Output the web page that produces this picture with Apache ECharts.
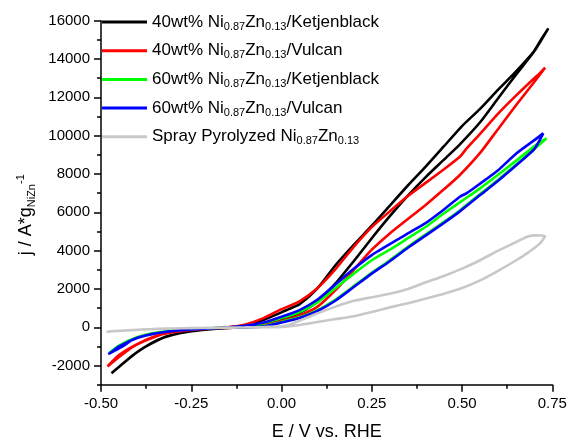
<!DOCTYPE html>
<html>
<head>
<meta charset="utf-8">
<script src="https://cdn.jsdelivr.net/npm/echarts@6/dist/echarts.min.js"></script>
<style>html,body{margin:0;padding:0;background:#fff;}#c{width:569px;height:441px;}</style>
</head>
<body>
<div id="c"></div>
<script>
// ---- data: [E (V vs RHE), j (A/g)] ----
const seriesNames = [
  '40wt% Ni0.87Zn0.13/Ketjenblack',
  '40wt% Ni0.87Zn0.13/Vulcan',
  '60wt% Ni0.87Zn0.13/Ketjenblack',
  '60wt% Ni0.87Zn0.13/Vulcan',
  'Spray Pyrolyzed Ni0.87Zn0.13'
];
const legendLabels = [
  '40wt% Ni{s|0.87}Zn{s|0.13}/Ketjenblack',
  '40wt% Ni{s|0.87}Zn{s|0.13}/Vulcan',
  '60wt% Ni{s|0.87}Zn{s|0.13}/Ketjenblack',
  '60wt% Ni{s|0.87}Zn{s|0.13}/Vulcan',
  'Spray Pyrolyzed Ni{s|0.87}Zn{s|0.13}'
];
const seriesColors = ['#000000', '#ff0000', '#00ff00', '#0000ff', '#c8c8c8'];

const k40Fwd = [[-0.471,-2400],[-0.44,-1900],[-0.411,-1445],[-0.38,-1050],[-0.35,-740],[-0.319,-480],[-0.273,-270],[-0.226,-150],[-0.18,-70],[-0.134,-20],[-0.1,20],[-0.05,120],[0,380],[0.05,750],[0.1,1350],[0.15,2300],[0.2,3450],[0.25,4650],[0.3,5800],[0.35,6870],[0.4,7850],[0.45,8750],[0.494,9550],[0.55,10700],[0.6,11950],[0.65,13200],[0.7,14400],[0.739,15600]];
const k40Rev = [[0.72,15050],[0.697,14350],[0.647,13300],[0.6,12400],[0.55,11400],[0.5,10500],[0.45,9450],[0.4,8400],[0.35,7400],[0.3,6350],[0.25,5300],[0.2,4300],[0.15,3250],[0.1,2050],[0.05,1200],[0.02,950],[0,780],[-0.05,380],[-0.1,100],[-0.15,-20],[-0.2,-100],[-0.25,-210],[-0.3,-390],[-0.35,-720],[-0.4,-1300],[-0.44,-1900],[-0.465,-2300]];

const v40Fwd = [[-0.482,-2050],[-0.45,-1550],[-0.411,-1010],[-0.38,-720],[-0.35,-490],[-0.319,-315],[-0.273,-175],[-0.226,-100],[-0.18,-50],[-0.134,-20],[-0.1,10],[-0.05,100],[0,330],[0.05,620],[0.1,1080],[0.15,1950],[0.2,3000],[0.25,4050],[0.3,4900],[0.35,5650],[0.4,6400],[0.45,7200],[0.494,7950],[0.55,9100],[0.6,10350],[0.65,11600],[0.7,12800],[0.73,13550]];
const v40Rev = [[0.715,13250],[0.7,13000],[0.65,12100],[0.6,11150],[0.55,10100],[0.513,9340],[0.494,8900],[0.45,8250],[0.4,7550],[0.35,6850],[0.3,6050],[0.25,5230],[0.2,4200],[0.15,3050],[0.1,2050],[0.05,1350],[0.02,1100],[0,950],[-0.05,480],[-0.1,150],[-0.15,0],[-0.2,-70],[-0.25,-140],[-0.3,-260],[-0.35,-470],[-0.4,-880],[-0.45,-1450],[-0.48,-2000]];

const k60Fwd = [[-0.478,-1330],[-0.44,-930],[-0.411,-590],[-0.365,-340],[-0.319,-210],[-0.273,-120],[-0.226,-70],[-0.18,-35],[-0.134,-10],[-0.1,5],[-0.05,60],[0,280],[0.05,520],[0.1,900],[0.15,1450],[0.2,2150],[0.25,2850],[0.3,3500],[0.35,4200],[0.4,4850],[0.45,5500],[0.494,6100],[0.55,6950],[0.6,7700],[0.65,8500],[0.7,9300],[0.734,9860]];
const k60Rev = [[0.72,9700],[0.7,9450],[0.65,8700],[0.605,8035],[0.55,7250],[0.5,6600],[0.45,5950],[0.4,5250],[0.35,4650],[0.3,4050],[0.25,3500],[0.2,2800],[0.15,2050],[0.1,1300],[0.05,800],[0,480],[-0.05,220],[-0.1,70],[-0.15,-10],[-0.2,-55],[-0.25,-100],[-0.3,-170],[-0.35,-300],[-0.4,-520],[-0.45,-950],[-0.475,-1300]];

const v60Fwd = [[-0.48,-1400],[-0.44,-1000],[-0.411,-630],[-0.365,-370],[-0.319,-230],[-0.273,-140],[-0.226,-80],[-0.18,-40],[-0.134,-15],[-0.1,0],[-0.05,40],[0,250],[0.05,480],[0.1,850],[0.15,1400],[0.2,2100],[0.25,2800],[0.3,3450],[0.35,4150],[0.4,4800],[0.45,5450],[0.494,6050],[0.55,6900],[0.6,7650],[0.651,8470],[0.7,9300],[0.725,10120]];
const v60Rev = [[0.707,9860],[0.651,9080],[0.6,8200],[0.55,7500],[0.513,7000],[0.494,6815],[0.45,6150],[0.4,5450],[0.35,4900],[0.328,4650],[0.25,3770],[0.2,3050],[0.15,2250],[0.1,1450],[0.05,900],[0,550],[-0.05,250],[-0.1,80],[-0.15,-10],[-0.2,-60],[-0.25,-110],[-0.3,-190],[-0.35,-320],[-0.4,-560],[-0.45,-1000],[-0.475,-1350]];

const spFwd = [[-0.485,-230],[-0.45,-190],[-0.411,-150],[-0.365,-100],[-0.319,-70],[-0.273,-50],[-0.226,-35],[-0.18,-25],[-0.134,-15],[-0.1,-10],[-0.05,0],[0,15],[0.05,120],[0.1,280],[0.15,430],[0.2,580],[0.25,800],[0.3,1040],[0.35,1260],[0.4,1500],[0.45,1750],[0.5,2050],[0.55,2450],[0.6,2950],[0.65,3500],[0.68,3860],[0.716,4380],[0.73,4760]];
const spRev = [[0.705,4800],[0.68,4730],[0.65,4450],[0.6,4000],[0.55,3500],[0.5,3060],[0.45,2680],[0.4,2350],[0.35,2000],[0.3,1750],[0.25,1570],[0.2,1380],[0.15,1080],[0.1,730],[0.05,350],[0.02,120],[0,50],[-0.05,10],[-0.1,-5],[-0.15,-15],[-0.2,-25],[-0.25,-40],[-0.3,-60],[-0.35,-90],[-0.4,-130],[-0.45,-180],[-0.48,-220]];

const yMajorTicks = [-2000, 0, 2000, 4000, 6000, 8000, 10000, 12000, 14000, 16000];
const yMinorTicks = [-3000, -1000, 1000, 3000, 5000, 7000, 9000, 11000, 13000, 15000];

const loops = [k40Fwd.concat(k40Rev), v40Fwd.concat(v40Rev), k60Fwd.concat(k60Rev), v60Fwd.concat(v60Rev), spFwd.concat(spRev)];

const FONT = "'Liberation Sans', Arial, sans-serif";
const chart = echarts.init(document.getElementById('c'), null, {renderer: 'canvas'});
const legendMap = {};
seriesNames.forEach((n, i) => legendMap[n] = legendLabels[i]);

chart.setOption({
  animation: false,
  backgroundColor: '#ffffff',
  grid: {left: 101, right: 16.7, top: 20.7, bottom: 56.2, containLabel: false, outerBoundsMode: 'none'},
  legend: {
    orient: 'vertical', left: 102, top: 12, padding: 0,
    itemWidth: 45, itemHeight: 3, itemGap: 8.7, icon: 'rect',
    data: seriesNames,
    formatter: n => legendMap[n],
    textStyle: {fontFamily: FONT, fontSize: 17, color: '#000', lineHeight: 20,
      rich: {s: {fontFamily: FONT, fontSize: 11, color: '#000', verticalAlign: 'bottom', lineHeight: 11}}}
  },
  xAxis: {
    type: 'value', min: -0.5, max: 0.75, interval: 0.25,
    name: 'E / V vs. RHE', nameLocation: 'middle', nameGap: 38,
    nameTextStyle: {fontFamily: FONT, fontSize: 18, color: '#000'},
    axisLine: {show: true, onZero: false, lineStyle: {color: '#000', width: 1.5}},
    axisTick: {show: true, inside: false, length: 7, lineStyle: {color: '#000', width: 1.5}},
    minorTick: {show: true, splitNumber: 2, length: 4, lineStyle: {color: '#000', width: 1.5}},
    axisLabel: {fontFamily: FONT, fontSize: 15, color: '#000', margin: 12, formatter: v => v.toFixed(2)},
    splitLine: {show: false}
  },
  yAxis: [{
    type: 'value', min: -3000, max: 16000, position: 'left', offset: 0,
    name: '{a|j / A*g}{s|NiZn}{p|-1}', nameLocation: 'middle', nameGap: 55, nameRotate: 90,
    nameTextStyle: {fontFamily: FONT, fontSize: 18, color: '#000', padding: [0, 24, 0, 0],
      rich: {
        a: {fontFamily: FONT, fontSize: 18, color: '#000', lineHeight: 22},
        s: {fontFamily: FONT, fontSize: 11, color: '#000', verticalAlign: 'bottom', lineHeight: 11},
        p: {fontFamily: FONT, fontSize: 11, color: '#000', verticalAlign: 'top', lineHeight: 11}
      }},
    axisLine: {show: true, onZero: false, lineStyle: {color: '#000', width: 1.5}},
    axisTick: {show: true, inside: false, length: 7, customValues: yMajorTicks, lineStyle: {color: '#000', width: 1.5}},
    axisLabel: {fontFamily: FONT, fontSize: 15, color: '#000', margin: 11, customValues: yMajorTicks, formatter: v => String(Math.round(v))},
    splitLine: {show: false}
  }, {
    type: 'value', min: -3000, max: 16000, position: 'left', offset: 0,
    axisLine: {show: false, onZero: false},
    axisTick: {show: true, inside: false, length: 4, customValues: yMinorTicks, lineStyle: {color: '#000', width: 1.5}},
    axisLabel: {show: false},
    splitLine: {show: false}
  }],
  series: seriesNames.map((n, i) => ({
    name: n, type: 'line', xAxisIndex: 0, yAxisIndex: 0,
    data: loops[i], showSymbol: false, symbol: 'none', smooth: 0.2,
    color: seriesColors[i],
    lineStyle: {color: seriesColors[i], width: 2.6},
    z: 2 + i
  }))
});
</script>
</body>
</html>
